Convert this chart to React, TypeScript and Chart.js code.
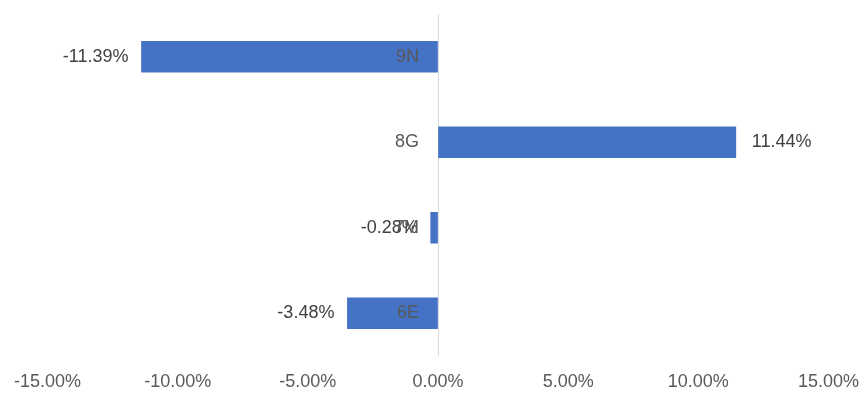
import React, { useEffect, useRef } from "react";
import { Chart, registerables } from "chart.js";

Chart.register(...registerables);

const categories = ["9N", "8G", "7M", "6E"];
const values = [-0.1139, 0.1144, -0.0028, -0.0348];
const valueLabels = ["-11.39%", "11.44%", "-0.28%", "-3.48%"];
const xMin = -0.15;
const xMax = 0.15;
const xStep = 0.05;

const FONT = "'Liberation Sans', Arial, sans-serif";

const labelPlugin = {
  id: "labels",
  afterDatasetsDraw(chart: any) {
    const ctx = chart.ctx;
    const meta = chart.getDatasetMeta(0);
    const xs = chart.scales.x;
    const zero = xs.getPixelForValue(0);
    ctx.save();
    ctx.font = `18px ${FONT}`;
    ctx.textBaseline = "middle";
    meta.data.forEach((bar: any, i: number) => {
      const v = values[i];
      const y = bar.y;
      ctx.fillStyle = "#404040";
      if (v < 0) {
        ctx.textAlign = "right";
        ctx.fillText(valueLabels[i], bar.x - 13, y);
      } else {
        ctx.textAlign = "left";
        ctx.fillText(valueLabels[i], bar.x + 16, y);
      }
      ctx.fillStyle = "#595959";
      ctx.textAlign = "right";
      ctx.fillText(categories[i], zero - 19, y);
    });
    ctx.restore();
  },
};

export default function App() {
  const ref = useRef<HTMLCanvasElement>(null);
  useEffect(() => {
    if (!ref.current) return;
    const chart = new Chart(ref.current, {
      type: "bar",
      data: {
        labels: categories,
        datasets: [
          {
            data: values,
            backgroundColor: "#4472C4",
            barThickness: 31,
          },
        ],
      },
      options: {
        indexAxis: "y",
        animation: false,
        responsive: false,
        maintainAspectRatio: false,
        layout: { padding: { left: 47.5, right: 864 - 828.5, top: 14, bottom: 0 } },
        plugins: {
          legend: { display: false },
          tooltip: { enabled: false },
        },
        scales: {
          x: {
            min: xMin,
            max: xMax,
            afterFit: (s: any) => {
              s.paddingLeft = 0;
              s.paddingRight = 0;
              s.height = 50;
            },
            ticks: {
              stepSize: xStep,
              color: "#595959",
              font: { family: FONT, size: 18 },
              padding: 15,
              maxRotation: 0,
              autoSkip: false,
              callback: (v: any) => (Number(v) * 100).toFixed(2) + "%",
            },
            grid: {
              drawTicks: false,
              color: (c: any) =>
                c.tick && Math.abs(c.tick.value) < 1e-9 ? "#d9d9d9" : "rgba(0,0,0,0)",
              lineWidth: 1,
            },
            border: { display: false },
          },
          y: {
            display: false,
          },
        },
      },
      plugins: [labelPlugin],
    });
    return () => chart.destroy();
  }, []);
  return (
    <div style={{ position: "fixed", left: 0, top: 0, width: 864, height: 406, background: "#fff" }}>
      <canvas ref={ref} width={864} height={406} style={{ width: 864, height: 406 }} />
    </div>
  );
}
